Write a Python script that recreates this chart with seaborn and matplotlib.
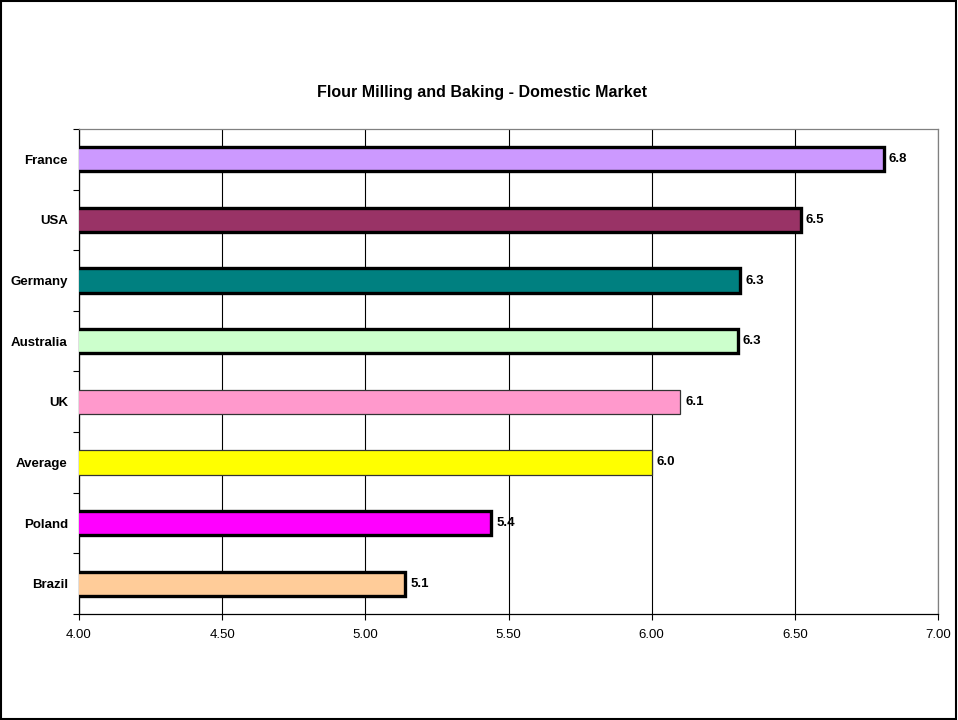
import matplotlib
matplotlib.use("Agg")
import matplotlib.pyplot as plt
from matplotlib.patches import Rectangle
from matplotlib.ticker import FixedLocator
import numpy as np
import pandas as pd
import seaborn as sns

# Data
countries = ["France", "USA", "Germany", "Australia", "UK", "Average", "Poland", "Brazil"]
scores = [6.81, 6.52, 6.31, 6.30, 6.10, 6.00, 5.44, 5.14]
colors = ["#CC99FF", "#993366", "#008080", "#CCFFCC", "#FF99CC", "#FFFF00", "#FF00FF", "#FFCC99"]
thick_edge = [True, True, True, True, False, False, True, True]
x_ticks = [4.00, 4.50, 5.00, 5.50, 6.00, 6.50, 7.00]
title = "Flour Milling and Baking - Domestic Market"

sns.set_theme(style="white")
plt.rcParams["font.family"] = ["Liberation Sans", "DejaVu Sans"]
plt.rcParams["text.color"] = "black"
plt.rcParams["xtick.color"] = "black"
plt.rcParams["ytick.color"] = "black"

df = pd.DataFrame({"country": countries, "score": scores})

fig = plt.figure(figsize=(9.58, 7.2), dpi=100)
ax = fig.add_axes([79 / 958, 1 - 614 / 720, (938 - 79) / 958, (614 - 129) / 720])

sns.barplot(data=df, y="country", x="score", hue="country", palette=colors,
            order=countries, hue_order=countries, orient="h", width=0.4,
            saturation=1, legend=False, ax=ax, zorder=3)

ax.set_xlim(4.0, 7.0)
ax.set_ylim(len(countries) - 0.5, -0.5)

# bar outlines and value labels
for patch, thick, val in zip(ax.patches, thick_edge, scores):
    if thick:
        patch.set_edgecolor("black")
        patch.set_linewidth(2.4)
    else:
        patch.set_edgecolor("#333333")
        patch.set_linewidth(0.9)
    yc = patch.get_y() + patch.get_height() / 2
    ax.annotate(f"{val:.1f}", xy=(val, yc), xytext=(3.5, 0), textcoords="offset points",
                ha="left", va="center", fontsize=9.5, fontweight="bold", color="black",
                zorder=5)

# axes styling
ax.set_xlabel("")
ax.set_ylabel("")
ax.set_xticks(x_ticks)
ax.set_xticklabels([f"{t:.2f}" for t in x_ticks], fontsize=9.5, color="black")
ax.xaxis.grid(True, color="black", linewidth=0.8, zorder=0)
ax.yaxis.grid(False)
ax.set_axisbelow(True)

ax.set_yticks(range(len(countries)))
ax.set_yticklabels(countries, fontsize=9.5, fontweight="bold", color="black")
ax.yaxis.set_minor_locator(FixedLocator(np.arange(-0.5, len(countries), 1.0)))
ax.tick_params(axis="y", which="major", length=0, pad=8)
ax.tick_params(axis="y", which="minor", length=4, width=0.8, color="black", direction="out", left=True)
ax.tick_params(axis="x", which="major", length=4, width=0.8, color="black", direction="out",
               bottom=True, pad=7)

for side in ["left", "bottom"]:
    ax.spines[side].set_color("black")
    ax.spines[side].set_linewidth(0.9)
for side in ["top", "right"]:
    ax.spines[side].set_visible(True)
    ax.spines[side].set_color("#808080")
    ax.spines[side].set_linewidth(0.9)

fig.text(482 / 958, 1 - 93 / 720, title, ha="center", va="center",
         fontsize=11.5, fontweight="bold", color="black")

# outer frame
fig.patches.append(Rectangle((0.001, 0.001), 0.997, 0.997, transform=fig.transFigure,
                             fill=False, edgecolor="black", linewidth=1.5))

fig.savefig("out.png", dpi=100)
